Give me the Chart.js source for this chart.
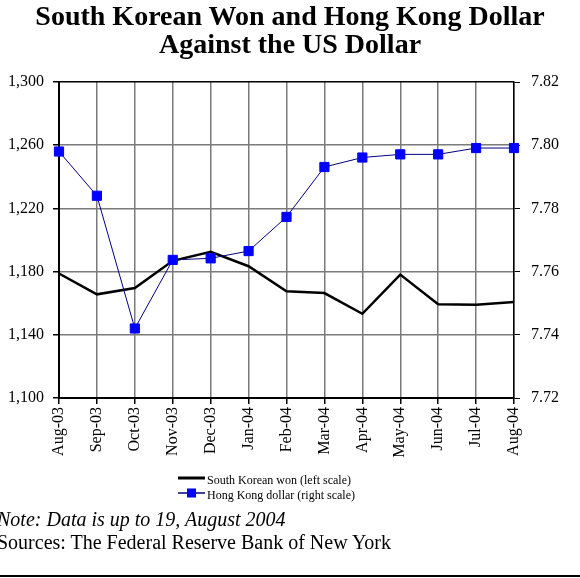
<!DOCTYPE html>
<html>
<head>
<meta charset="utf-8">
<script src="https://cdn.jsdelivr.net/npm/chart.js@4.4.1/dist/chart.umd.min.js"></script>
<style>
    html, body { margin: 0; padding: 0; background: #fff; }
    #wrap { position: relative; width: 580px; height: 578px; overflow: hidden; font-family: 'Liberation Serif', 'Times New Roman', serif; }
    #chart { position: absolute; left: 0; top: 0; }
    .title { position: absolute; left: 0; top: 2px; width: 580px; text-align: center; font-weight: bold; font-size: 28px; line-height: 28px; color: #000; }
    .note { position: absolute; left: -3px; top: 508px; font-size: 20px; line-height: 23px; color: #000; white-space: nowrap; }
    .note i { font-style: italic; }
    .rule { position: absolute; left: 0; top: 575px; width: 580px; height: 2px; background: #000; }
</style>
</head>
<body>
<div id="wrap">
    <canvas id="chart" width="580" height="578"></canvas>
    <div class="title">South Korean Won and Hong Kong Dollar<br>Against the US Dollar</div>
    <div class="note"><i>Note: Data is up to 19, August 2004</i><br>Sources: The Federal Reserve Bank of New York</div>
    <div class="rule"></div>
</div>
<script>
// Months (x axis)
const months = ['Aug-03', 'Sep-03', 'Oct-03', 'Nov-03', 'Dec-03', 'Jan-04', 'Feb-04',
                'Mar-04', 'Apr-04', 'May-04', 'Jun-04', 'Jul-04', 'Aug-04'];

// South Korean won per US dollar (left scale)
const wonValues = [1178.8, 1165.6, 1169.6, 1186.8, 1192.5, 1183.4, 1167.6,
                   1166.4, 1153.3, 1178.1, 1159.4, 1159.0, 1160.7];

// Hong Kong dollar per US dollar (right scale)
const hkdValues = [7.798, 7.784, 7.742, 7.7637, 7.7642, 7.7665, 7.7773,
                   7.7931, 7.7961, 7.7971, 7.7971, 7.7991, 7.7991];

const wonTicks = { min: 1100, max: 1300, step: 40 };
const hkdTicks = { min: 7.72, max: 7.82, step: 0.02 };

const legendLabels = ['South Korean won (left scale)', 'Hong Kong dollar (right scale)'];

const tickFont = { family: "'Liberation Serif', 'Times New Roman', serif", size: 16 };
const gridGray = '#7a7a7a';

// Legend drawn under the axis (line + marker samples)
const lineLegend = {
    id: 'lineLegend',
    afterDraw(chart) {
        const ctx = chart.ctx;
        const x0 = 178, x1 = 205, tx = 207;
        const rows = [478, 493];
        ctx.save();
        ctx.font = "12px 'Liberation Serif', 'Times New Roman', serif";
        ctx.textBaseline = 'middle';
        ctx.textAlign = 'left';
        chart.data.datasets.forEach(function(ds, i) {
            const y = rows[i];
            ctx.strokeStyle = ds.borderColor;
            ctx.lineWidth = i === 0 ? 3 : 1.5;
            ctx.beginPath();
            ctx.moveTo(x0, y);
            ctx.lineTo(x1, y);
            ctx.stroke();
            if (ds.pointRadius > 0) {
                ctx.fillStyle = ds.pointBackgroundColor;
                ctx.fillRect((x0 + x1) / 2 - 4.5, y - 4.5, 9, 9);
            }
            ctx.fillStyle = '#000';
            ctx.fillText(legendLabels[i], tx, y + 3);
        });
        ctx.restore();
    }
};

new Chart(document.getElementById('chart').getContext('2d'), {
    type: 'line',
    data: {
        labels: months,
        datasets: [
            {
                label: legendLabels[0],
                data: wonValues,
                yAxisID: 'y',
                borderColor: '#000000',
                borderWidth: 2.5,
                pointRadius: 0,
                tension: 0,
                order: 1
            },
            {
                label: legendLabels[1],
                data: hkdValues,
                yAxisID: 'y1',
                borderColor: '#000080',
                borderWidth: 1,
                pointStyle: 'rect',
                pointRadius: 6.5,
                pointBorderWidth: 1,
                pointBackgroundColor: '#0000ff',
                pointBorderColor: '#0000ff',
                tension: 0,
                order: 0
            }
        ]
    },
    options: {
        responsive: false,
        animation: false,
        devicePixelRatio: 1,
        layout: { padding: { top: 82, bottom: 110, left: 0, right: 0 } },
        plugins: {
            legend: { display: false },
            title: { display: false },
            tooltip: { enabled: false }
        },
        scales: {
            x: {
                offset: false,
                grid: { color: gridGray, lineWidth: 1.5, tickColor: '#000', tickLength: 6 },
                border: { color: '#000', width: 2 },
                ticks: {
                    color: '#000', font: tickFont, padding: 3,
                    minRotation: 90, maxRotation: 90, autoSkip: false
                },
                afterFit: function(scale) { scale.height = 70; }
            },
            y: {
                position: 'left',
                min: wonTicks.min,
                max: wonTicks.max,
                grid: {
                    color: function(c) { return c.tick && c.tick.value === wonTicks.max ? '#000' : gridGray; },
                    lineWidth: 1.5, tickColor: '#000', tickLength: 6
                },
                border: { color: '#000', width: 2 },
                ticks: {
                    stepSize: wonTicks.step, color: '#000', font: tickFont, padding: 9,
                    callback: function(v) { return v.toLocaleString('en-US'); }
                },
                afterFit: function(scale) { scale.width = 59; }
            },
            y1: {
                position: 'right',
                min: hkdTicks.min,
                max: hkdTicks.max,
                grid: { drawOnChartArea: false, tickColor: '#000', tickLength: 6 },
                border: { color: '#000', width: 1.5 },
                ticks: {
                    stepSize: hkdTicks.step, color: '#000', font: tickFont, padding: 11,
                    callback: function(v) { return v.toFixed(2); }
                },
                afterFit: function(scale) { scale.width = 66; }
            }
        }
    },
    plugins: [lineLegend]
});
</script>
</body>
</html>
